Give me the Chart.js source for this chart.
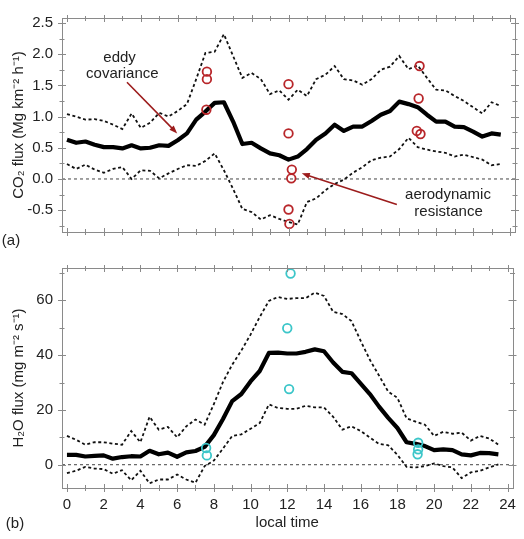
<!DOCTYPE html>
<html>
<head>
<meta charset="utf-8">
<script src="https://cdn.jsdelivr.net/npm/chart.js@4"></script>
<style>
  body { margin: 0; background: #fff; }
  #wrap { position: relative; width: 524px; height: 539px; }
  canvas { position: absolute; left: 0; }
</style>
</head>
<body>
<div id="wrap">
  <canvas id="co2Chart" width="524" height="250" style="top:0"></canvas>
  <canvas id="h2oChart" width="524" height="289" style="top:250px"></canvas>
</div>
<script>
// local time, half-hour steps
const hours = [0, 0.5, 1, 1.5, 2, 2.5, 3, 3.5, 4, 4.5, 5, 5.5, 6, 6.5, 7, 7.5, 8, 8.5, 9, 9.5,
  10, 10.5, 11, 11.5, 12, 12.5, 13, 13.5, 14, 14.5, 15, 15.5, 16, 16.5, 17, 17.5, 18, 18.5, 19, 19.5,
  20, 20.5, 21, 21.5, 22, 22.5, 23, 23.5];

// (a) CO2 flux, eddy covariance mean and bounds
const co2Mean = [0.63, 0.58, 0.60, 0.55, 0.51, 0.51, 0.49, 0.54, 0.49, 0.50, 0.54, 0.53, 0.62, 0.73, 0.95, 1.08,
  1.22, 1.23, 0.92, 0.56, 0.58, 0.49, 0.41, 0.38, 0.31, 0.36, 0.48, 0.63, 0.73, 0.87, 0.77, 0.84,
  0.84, 0.93, 1.03, 1.09, 1.24, 1.20, 1.15, 1.03, 0.92, 0.92, 0.84, 0.83, 0.76, 0.68, 0.73, 0.71];
const co2Upper = [1.04, 1.00, 0.95, 0.96, 0.93, 0.87, 0.80, 1.05, 0.82, 0.90, 1.06, 1.00, 1.09, 1.20, 1.60, 2.02,
  2.04, 2.32, 1.97, 1.62, 1.70, 1.60, 1.36, 1.42, 1.27, 1.43, 1.33, 1.60, 1.67, 1.81, 1.60, 1.58,
  1.51, 1.60, 1.75, 1.80, 1.97, 1.76, 1.82, 1.62, 1.43, 1.42, 1.33, 1.25, 1.15, 1.05, 1.23, 1.17];
const co2Lower = [0.24, 0.16, 0.23, 0.15, 0.10, 0.16, 0.19, 0.00, 0.14, 0.13, 0.01, 0.09, 0.16, 0.22, 0.21, 0.29,
  0.41, 0.14, -0.16, -0.48, -0.53, -0.65, -0.58, -0.64, -0.69, -0.73, -0.37, -0.31, -0.18, -0.08, -0.01, 0.10,
  0.19, 0.30, 0.34, 0.36, 0.48, 0.66, 0.51, 0.47, 0.44, 0.42, 0.36, 0.39, 0.35, 0.31, 0.22, 0.24];
// aerodynamic resistance estimates
const co2ObsX = [7.58, 7.58, 7.55, 12.0, 12.0, 12.18, 12.15, 12.0, 12.05, 19.1, 19.05, 18.95, 19.15];
const co2ObsY = [1.72, 1.60, 1.11, 1.52, 0.73, 0.15, 0.01, -0.49, -0.72, 1.81, 1.29, 0.77, 0.72];

// (b) H2O flux
const h2oMean = [3.6, 3.6, 3.0, 3.2, 3.4, 2.2, 2.8, 3.1, 3.0, 5.1, 3.8, 4.4, 2.9, 4.5, 5.0, 6.5,
  10.8, 16.7, 23.2, 25.8, 30.4, 34.2, 40.8, 40.9, 40.6, 40.6, 41.2, 42.1, 41.4, 37.3, 33.9, 33.4,
  29.6, 25.8, 21.2, 17.1, 13.4, 8.2, 7.6, 6.8, 5.3, 5.6, 5.3, 3.8, 3.4, 4.3, 4.2, 3.8];
const h2oUpper = [10.5, 9.1, 7.3, 8.2, 8.2, 7.7, 7.3, 12.3, 8.2, 17.5, 12.8, 13.8, 10.0, 14.0, 16.5, 14.6,
  22.1, 30.2, 36.5, 41.7, 47.5, 53.9, 59.8, 61.2, 60.5, 60.8, 60.8, 62.8, 61.6, 55.8, 55.0, 52.4,
  45.2, 38.3, 32.5, 26.7, 24.4, 16.9, 15.7, 14.6, 10.5, 12.0, 11.3, 11.7, 8.8, 10.5, 9.6, 7.3];
const h2oLower = [-3.1, -2.2, -0.8, -1.4, -1.6, -3.3, -2.0, -5.7, -2.2, -6.8, -5.4, -5.4, -3.6, -5.4, -6.6, -0.5,
  1.5, 5.9, 10.5, 11.1, 13.1, 15.2, 22.0, 20.7, 20.4, 20.4, 21.5, 20.9, 20.9, 17.5, 12.8, 14.0,
  12.3, 9.9, 7.6, 7.1, 3.6, -0.8, -1.0, -0.5, 0.5, -0.5, -1.0, -4.9, -2.8, -2.2, -1.0, 0.1];
const h2oObsX = [7.58, 7.62, 12.18, 12.0, 12.1, 19.13, 19.13, 19.1];
const h2oObsY = [6.1, 3.4, 69.8, 49.8, 27.6, 8.0, 5.6, 3.8];

// tick labels
const timeTicks = [0, 2, 4, 6, 8, 10, 12, 14, 16, 18, 20, 22, 24];
const co2Ticks = [-0.5, 0, 0.5, 1, 1.5, 2, 2.5];
const h2oTicks = [0, 20, 40, 60];

const FONT = "'Liberation Sans', Arial, sans-serif";
const RED = '#b8262a';
const CYAN = '#3cc6c9';

const pts = (xs, ys) => xs.map((x, i) => ({x: x, y: ys[i]}));

// first dataset in the list is drawn on top
function lineSets(mean, upper, lower, obsX, obsY, obsColor) {
  const dashed = {borderColor: '#111', borderWidth: 1.8, borderDash: [3, 2.6], pointRadius: 0, tension: 0};
  return [
    {data: pts(obsX, obsY), showLine: false, pointRadius: 4.3, pointBorderWidth: 1.8,
     pointBorderColor: obsColor, pointBackgroundColor: 'rgba(0,0,0,0)'},
    {data: pts(hours, mean), borderColor: '#000', borderWidth: 4.2, pointRadius: 0, tension: 0, borderJoinStyle: 'round'},
    Object.assign({data: pts(hours, upper)}, dashed),
    Object.assign({data: pts(hours, lower)}, dashed)
  ];
}

// frame, minor/major tick marks and the zero line
const framePlugin = {
  id: 'frame',
  beforeDatasetsDraw(chart) {
    const {ctx, chartArea: a, scales: {y}} = chart;
    const y0 = y.getPixelForValue(0);
    ctx.save();
    ctx.strokeStyle = '#444';
    ctx.lineWidth = 1;
    ctx.setLineDash([3, 3]);
    ctx.beginPath();
    ctx.moveTo(a.left, y0);
    ctx.lineTo(a.right, y0);
    ctx.stroke();
    ctx.restore();
  },
  afterDraw(chart, args, opts) {
    const {ctx, chartArea: a, scales: {x, y}} = chart;
    ctx.save();
    ctx.strokeStyle = '#8a8a8a';
    ctx.lineWidth = 1;
    ctx.strokeRect(Math.round(a.left) + 0.5, Math.round(a.top) + 0.5,
      Math.round(a.right - a.left), Math.round(a.bottom - a.top));
    ctx.beginPath();
    for (let h = 0; h <= 24; h++) {
      const px = Math.round(x.getPixelForValue(h)) + 0.5;
      const len = h % 2 === 0 ? 4 : 3;
      ctx.moveTo(px, a.top - len + 1); ctx.lineTo(px, a.top + len);
      ctx.moveTo(px, a.bottom - len); ctx.lineTo(px, a.bottom + len);
    }
    const step = opts.minor;
    for (let v = Math.ceil(y.min / step) * step; v <= y.max; v += step) {
      const py = Math.round(y.getPixelForValue(v)) + 0.5;
      const major = Math.abs(v / (step * 2) - Math.round(v / (step * 2))) < 1e-6;
      const len = major ? 4 : 2.5;
      ctx.moveTo(a.left - len, py); ctx.lineTo(a.left + len, py);
      ctx.moveTo(a.right - len, py); ctx.lineTo(a.right + len, py);
    }
    ctx.stroke();
    ctx.fillStyle = '#222';
    ctx.font = '15px ' + FONT;
    ctx.textAlign = 'center';
    ctx.textBaseline = 'middle';
    ctx.fillText(opts.panel, opts.panelX, opts.panelY);
    (opts.notes || []).forEach(n => {
      ctx.fillText(n.text, x.getPixelForValue(n.x), y.getPixelForValue(n.y));
    });
    (opts.arrows || []).forEach(ar => {
      const x1 = x.getPixelForValue(ar.from[0]), y1 = y.getPixelForValue(ar.from[1]);
      const x2 = x.getPixelForValue(ar.to[0]), y2 = y.getPixelForValue(ar.to[1]);
      const ang = Math.atan2(y2 - y1, x2 - x1);
      ctx.strokeStyle = '#9c1c1c';
      ctx.fillStyle = '#9c1c1c';
      ctx.lineWidth = 1.6;
      ctx.beginPath();
      ctx.moveTo(x1, y1);
      ctx.lineTo(x2 - 5 * Math.cos(ang), y2 - 5 * Math.sin(ang));
      ctx.stroke();
      ctx.beginPath();
      ctx.moveTo(x2, y2);
      ctx.lineTo(x2 - 8 * Math.cos(ang) + 3 * Math.sin(ang), y2 - 8 * Math.sin(ang) - 3 * Math.cos(ang));
      ctx.lineTo(x2 - 8 * Math.cos(ang) - 3 * Math.sin(ang), y2 - 8 * Math.sin(ang) + 3 * Math.cos(ang));
      ctx.closePath();
      ctx.fill();
    });
    ctx.restore();
  }
};

function yAxis(min, max, tickList, digits, title) {
  return {
    min: min, max: max,
    afterFit: s => { s.width = 56; },
    afterBuildTicks: s => { s.ticks = tickList.map(v => ({value: v})); },
    grid: {display: false, drawTicks: false},
    border: {display: false},
    ticks: {padding: 9, color: '#222', font: {family: FONT, size: 15},
            callback: v => v.toFixed(digits)},
    title: {display: true, text: title, color: '#222', padding: {top: 4, bottom: 0},
            font: {family: FONT, size: 15}}
  };
}

const baseOptions = {
  responsive: false,
  animation: false,
  events: [],
  plugins: {legend: {display: false}, tooltip: {enabled: false}}
};

new Chart(document.getElementById('co2Chart'), {
  type: 'line',
  data: {datasets: lineSets(co2Mean, co2Upper, co2Lower, co2ObsX, co2ObsY, RED)},
  plugins: [framePlugin],
  options: Object.assign({}, baseOptions, {
    layout: {padding: {left: 6, top: 5, right: 9, bottom: 12}},
    scales: {
      x: {type: 'linear', min: -0.27, max: 24.27, display: false},
      y: yAxis(-0.85, 2.58, co2Ticks, 1, 'CO\u2082 flux (Mg km\u207B\u00B2 h\u207B\u00B9)')
    },
    plugins: Object.assign({}, baseOptions.plugins, {
      frame: {
        minor: 0.25, panel: '(a)', panelX: 11, panelY: 241,
        notes: [
          {text: 'eddy', x: 2.85, y: 1.94},
          {text: 'covariance', x: 3.0, y: 1.68},
          {text: 'aerodynamic', x: 20.64, y: -0.26},
          {text: 'resistance', x: 20.67, y: -0.53}
        ],
        arrows: [
          {from: [3.25, 1.55], to: [5.97, 0.73]},
          {from: [17.87, -0.41], to: [12.72, 0.09]}
        ]
      }
    })
  })
});

new Chart(document.getElementById('h2oChart'), {
  type: 'line',
  data: {datasets: lineSets(h2oMean, h2oUpper, h2oLower, h2oObsX, h2oObsY, CYAN)},
  plugins: [framePlugin],
  options: Object.assign({}, baseOptions, {
    layout: {padding: {left: 6, top: 5, right: 9, bottom: 0}},
    scales: {
      x: {
        type: 'linear', min: -0.27, max: 24.27,
        afterFit: s => { s.height = 51; },
        afterBuildTicks: s => { s.ticks = timeTicks.map(v => ({value: v})); },
        grid: {display: false, drawTicks: false},
        border: {display: false},
        ticks: {padding: 8, maxRotation: 0, color: '#222', font: {family: FONT, size: 15}},
        title: {display: true, text: 'local time', color: '#222', padding: {top: 0, bottom: 7},
                font: {family: FONT, size: 15}}
      },
      y: yAxis(-8.5, 71.8, h2oTicks, 0, 'H\u2082O flux (mg m\u207B\u00B2 s\u207B\u00B9)')
    },
    plugins: Object.assign({}, baseOptions.plugins, {
      frame: {minor: 10, panel: '(b)', panelX: 15, panelY: 273.5}
    })
  })
});
</script>
</body>
</html>
